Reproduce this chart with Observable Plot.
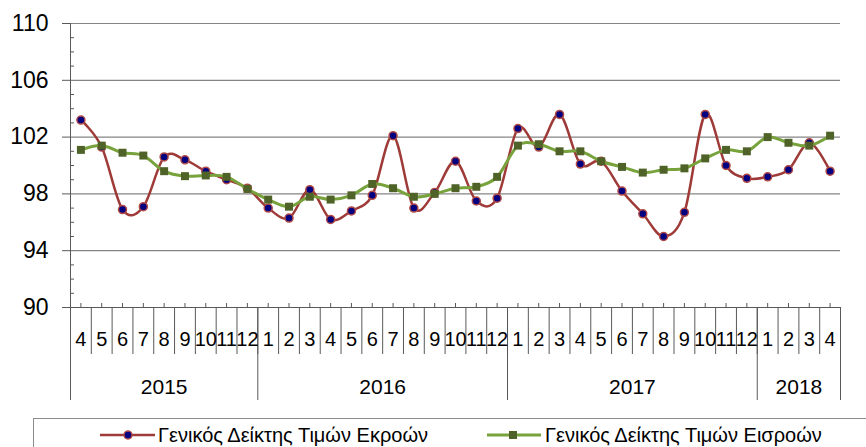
<!DOCTYPE html>
<html>
<head>
<meta charset="utf-8">
<script src="https://cdn.jsdelivr.net/npm/d3@7"></script>
<script src="https://cdn.jsdelivr.net/npm/@observablehq/plot@0.6"></script>
<style>
  html, body { margin: 0; padding: 0; background: #fff; }
  body { width: 866px; height: 447px; position: relative; overflow: hidden;
         font-family: "Liberation Sans Narrow", "Arial Narrow", "Liberation Sans", Arial, sans-serif; }
  #chart { position: absolute; left: 0; top: 0; }
  #legend { position: absolute; left: 32.5px; top: 417.5px; width: 900px; height: 60px;
            border-top: 1px solid #8c8c8c; border-left: 1px solid #8c8c8c; }
  .sw { position: absolute; top: 429px; }
  .lt { position: absolute; top: 423px; font-size: 20px; line-height: 24px; color: #000; white-space: nowrap; }
</style>
</head>
<body>
<div id="chart"></div>
<div id="legend"></div>
<svg class="sw" style="left:100px" width="56" height="12">
  <line x1="0" y1="6" x2="55" y2="6" stroke="#9E3B38" stroke-width="2.5"></line>
  <circle cx="28" cy="6" r="4" fill="#000080" stroke="#B04A47" stroke-width="1.5"></circle>
</svg>
<div class="lt" id="lab0" style="left:158px"></div>
<svg class="sw" style="left:487px" width="54" height="12">
  <line x1="0" y1="6" x2="54" y2="6" stroke="#77A23C" stroke-width="3"></line>
  <rect x="22" y="2" width="8" height="8" fill="#4F6228"></rect>
</svg>
<div class="lt" id="lab1" style="left:545px"></div>
<script>
// ---- data ----
const seriesNames = ["Γενικός Δείκτης Τιμών Εκροών", "Γενικός Δείκτης Τιμών Εισροών"];
const years = [2015, 2016, 2017, 2018];
const monthsByYear = [
  [4, 5, 6, 7, 8, 9, 10, 11, 12],
  [1, 2, 3, 4, 5, 6, 7, 8, 9, 10, 11, 12],
  [1, 2, 3, 4, 5, 6, 7, 8, 9, 10, 11, 12],
  [1, 2, 3, 4]
];
const outputIndex = [
  103.2, 101.3, 96.9, 97.1, 100.6, 100.4, 99.6, 99.0, 98.4,
  97.0, 96.3, 98.3, 96.2, 96.8, 97.9, 102.1, 97.0, 98.1, 100.3, 97.5, 97.7,
  102.6, 101.3, 103.6, 100.1, 100.3, 98.2, 96.6, 95.0, 96.7, 103.6, 100.0, 99.1,
  99.2, 99.7, 101.6, 99.6
];
const inputIndex = [
  101.1, 101.4, 100.9, 100.7, 99.6, 99.25, 99.3, 99.2, 98.35,
  97.6, 97.1, 97.8, 97.6, 97.9, 98.7, 98.4, 97.8, 98.0, 98.4, 98.5, 99.2,
  101.4, 101.5, 101.0, 101.0, 100.3, 99.9, 99.5, 99.7, 99.8, 100.5, 101.1, 101.0,
  102.0, 101.6, 101.4, 102.1
];
const yTicks = [90, 94, 98, 102, 106, 110];

// ---- derived tables ----
const rows = [];
years.forEach((yr, k) => monthsByYear[k].forEach(m => rows.push({year: yr, month: m})));
rows.forEach((r, i) => { r.i = i; r.out = outputIndex[i]; r.inp = inputIndex[i]; });
const n = rows.length;
const yearGroups = [];
{ let s = 0; years.forEach((yr, k) => { const e = s + monthsByYear[k].length; yearGroups.push({year: yr, start: s, end: e}); s = e; }); }
const boundaries = d3.range(n + 1);
const yearBounds = [0, ...yearGroups.map(g => g.end)];
const yMin = yTicks[0], yMax = yTicks[yTicks.length - 1];
const yMinor = d3.range(yMin, yMax + 1).filter(v => !yTicks.includes(v));
const base = yMin;
const cx = d => d.i + 0.5;

const axisColor = "#595959";
const gridColor = "#858585";
const narrow = '"Liberation Sans Narrow", "Arial Narrow", "Liberation Sans", Arial, sans-serif';
const arial = '"Liberation Sans", Arial, sans-serif';

const chart = Plot.plot({
  width: 866,
  height: 417,
  marginLeft: 70,
  marginRight: 26,
  marginTop: 23,
  marginBottom: 110,
  x: {type: "linear", domain: [0, n], axis: null},
  y: {domain: [yMin, yMax], axis: null},
  style: {background: "transparent", overflow: "visible", color: "#000"},
  marks: [
    Plot.ruleY(yTicks.slice(1), {x1: 0, x2: n, stroke: gridColor, strokeWidth: 1.2}),
    Plot.ruleY([base], {x1: 0, x2: n, stroke: axisColor}),
    Plot.ruleX([0], {y1: yMin, y2: yMax, stroke: axisColor}),
    Plot.ruleY(yTicks, {x1: 0, x2: 0, insetLeft: -8, stroke: axisColor}),
    Plot.ruleY(yMinor, {x1: 0, x2: 0, insetRight: -4, stroke: axisColor}),
    Plot.text(yTicks, {x: 0, y: d => d, text: d => String(d), textAnchor: "end", dx: -22,
      fontSize: 23, fontFamily: arial, fill: "#000"}),
    Plot.ruleX(rows, {x: cx, y1: () => base, y2: () => base, insetTop: -4, stroke: axisColor}),
    Plot.ruleX(boundaries, {x: d => d, y1: () => base, y2: () => base, insetBottom: -47, stroke: axisColor}),
    Plot.ruleX(yearBounds, {x: d => d, y1: () => base, y2: () => base, insetBottom: -93, stroke: axisColor}),
    Plot.text(rows, {x: cx, y: () => base, text: d => String(d.month), dy: 32,
      fontSize: 20, fontFamily: narrow, fill: "#000"}),
    Plot.text(yearGroups, {x: d => (d.start + d.end) / 2, y: () => base, text: d => String(d.year), dy: 80,
      fontSize: 21, fontFamily: narrow, fill: "#000"}),
    Plot.line(rows, {x: cx, y: "out", curve: "cardinal", stroke: "#9E3B38", strokeWidth: 2.5}),
    Plot.dot(rows, {x: cx, y: "out", r: 4, fill: "#000080", stroke: "#B04A47", strokeWidth: 1.5}),
    Plot.line(rows, {x: cx, y: "inp", curve: "cardinal", stroke: "#77A23C", strokeWidth: 3}),
    Plot.dot(rows, {x: cx, y: "inp", symbol: "square", r: 4.5, fill: "#4F6228", stroke: "none"})
  ]
});
document.getElementById("chart").appendChild(chart);
document.getElementById("lab0").textContent = seriesNames[0];
document.getElementById("lab1").textContent = seriesNames[1];
</script>
</body>
</html>
